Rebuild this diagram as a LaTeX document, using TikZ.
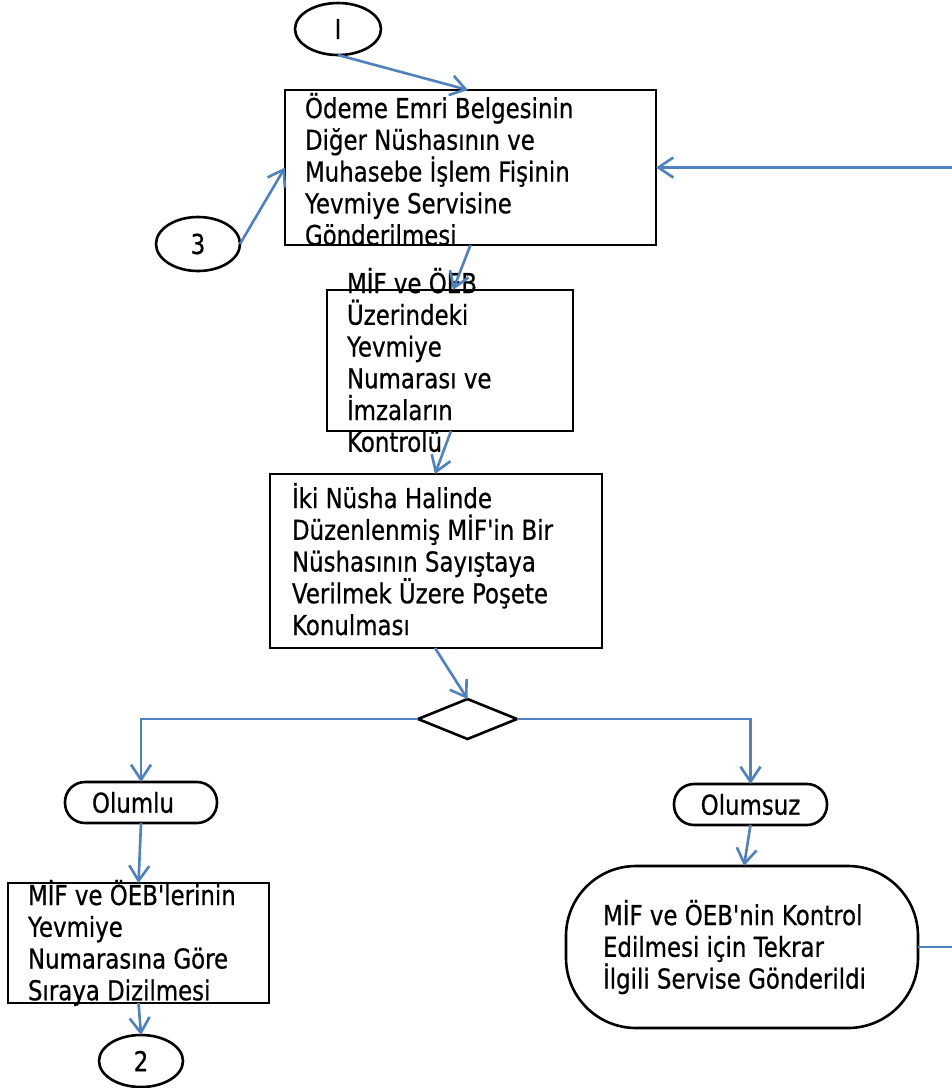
\documentclass[tikz,border=0pt]{standalone}
\usepackage{fontspec}
\setmainfont{DejaVu Sans}[FakeStretch=0.835, FakeBold=0.6, Ligatures=TeXOff]
\usetikzlibrary{arrows.meta,shapes.geometric,calc}
\definecolor{flow}{HTML}{4F81BD}
\newcommand\firstln{\rule{0pt}{28pt}}
\begin{document}
\begin{tikzpicture}[x=1pt,y=-1pt,
  every node/.style={inner sep=0pt, outer sep=0pt},
  fnt/.style={font=\fontsize{27.4}{31.75}\selectfont},
  txt/.style={fnt, anchor=north west, align=left},
  procbox/.style={draw=black, line width=2.6pt, rectangle},
  oval/.style={draw=black, line width=2.6pt, ellipse, fnt},
  stad/.style={draw=black, line width=2.6pt, rectangle, rounded corners=20pt, fnt},
  conn/.style={draw=flow, line width=2.6pt, -{Straight Barb[length=15pt,width=20pt,line width=2.6pt]}},
  plain/.style={draw=flow, line width=2.6pt}
]
\useasboundingbox (0,0) rectangle (952,1088);
\fill[white] (0,0) rectangle (952,1088);

% texts (behind the frames)
\node[txt] (t1) at (305,90) {\firstln Ödeme Emri Belgesinin\\Diğer Nüshasının ve\\Muhasebe İşlem Fişinin\\Yevmiye Servisine\\Gönderilmesi};
\node[txt] (t2) at (347,265) {\firstln MİF ve ÖEB\\Üzerindeki\\Yevmiye\\Numarası ve\\İmzaların\\Kontrolü};
\node[txt] (t3) at (292,480) {\firstln İki Nüsha Halinde\\Düzenlenmiş MİF'in Bir\\Nüshasının Sayıştaya\\Verilmek Üzere Poşete\\Konulması};
\node[txt] (t4) at (28,877) {\firstln MİF ve ÖEB'lerinin\\Yevmiye\\Numarasına Göre\\Sıraya Dizilmesi};
\node[txt] (t5) at (603,897) {\firstln MİF ve ÖEB'nin Kontrol\\Edilmesi için Tekrar\\İlgili Servise Gönderildi};

% frames
\node[oval, minimum width=86pt, minimum height=52pt] (eI) at (338,29) {I};
\node[oval, minimum width=84pt, minimum height=54pt] (e3) at (198,244) {3};
\node[oval, minimum width=84pt, minimum height=52pt] (e2) at (141,1061) {2};
\node[procbox, minimum width=371pt, minimum height=155pt] (b1) at (470.5,167.5) {};
\node[procbox, minimum width=246pt, minimum height=141pt] (b2) at (450,360.5) {};
\node[procbox, minimum width=332pt, minimum height=174pt] (b3) at (436,561) {};
\node[procbox, minimum width=261pt, minimum height=120pt] (b4) at (138.5,943) {};
\node[procbox, rounded corners=70pt, minimum width=352pt, minimum height=162pt] (rb) at (742,947) {};
\node[draw=black, line width=2.6pt, diamond, minimum width=99pt, minimum height=40pt] (d) at (467.5,719) {};
\node[stad, minimum width=152pt, minimum height=41pt] (ol) at (141,802.5) {Olumlu\hspace*{16pt}};
\node[stad, minimum width=153pt, minimum height=41pt] (os) at (750.5,804.5) {Olumsuz};

\coordinate (rt) at (952,167.5);
\coordinate (re) at (952,947);

% connectors
\draw[conn] (eI.south) -- ([xshift=-2.5pt]b1.north);
\draw[conn] (e3.east) -- (b1.west);
\draw[conn] (rt) -- (b1.east);
\draw[conn] (b1.south) -- ([xshift=3pt]b2.north);
\draw[conn] ([xshift=1pt]b2.south) -- ([xshift=-1pt]b3.north);
\draw[conn] ([xshift=-1pt]b3.south) -- (d.north);
\draw[conn] (d.west) -| (ol.north);
\draw[conn] (d.east) -| (os.north);
\draw[conn] (ol.south) -- (b4.north);
\draw[conn] (b4.south) -- (e2.north);
\draw[conn] (os.south) -- ([xshift=2pt]rb.north);
\draw[plain] (rb.east) -- (re);
\end{tikzpicture}
\end{document}
